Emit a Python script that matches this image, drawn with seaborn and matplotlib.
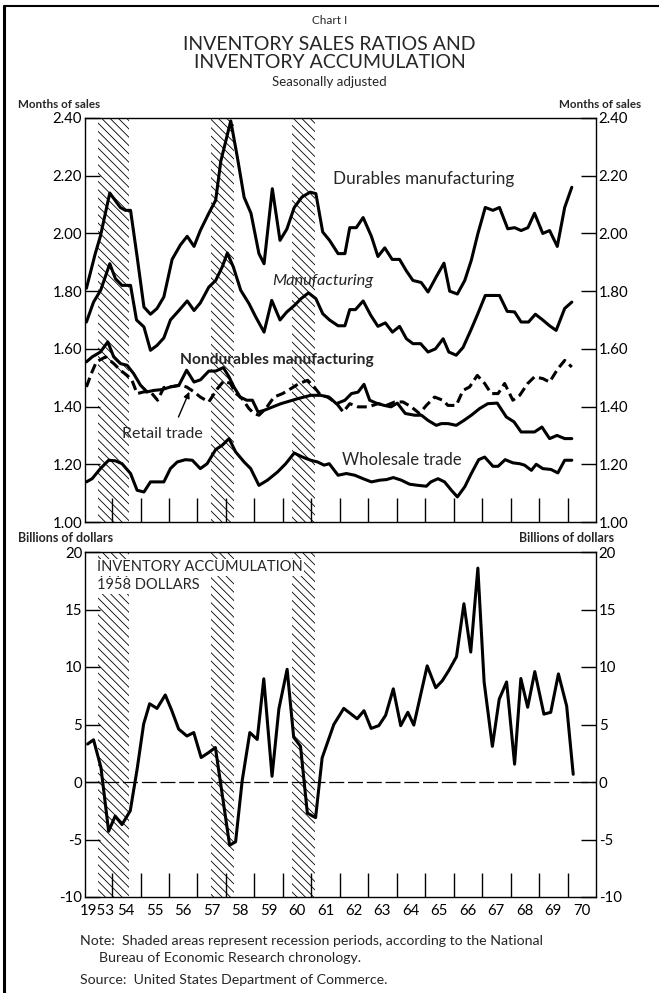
import numpy as np
import pandas as pd
import matplotlib
matplotlib.use("Agg")
import matplotlib.pyplot as plt
import seaborn as sns

# ---------------- data ----------------
durables_t = [1953.10, 1953.41, 1953.59, 1953.92, 1954.29, 1954.47, 1954.65, 1954.88, 1955.12, 1955.35,
              1955.58, 1955.82, 1956.11, 1956.40, 1956.64, 1956.88, 1957.10, 1957.40, 1957.64, 1957.82,
              1958.17, 1958.40, 1958.64, 1958.88, 1959.16, 1959.34, 1959.63, 1959.90, 1960.14, 1960.40,
              1960.67, 1960.96, 1961.16, 1961.40, 1961.64, 1961.94, 1962.18, 1962.35, 1962.58, 1962.82,
              1963.11, 1963.34, 1963.58, 1963.84, 1964.10, 1964.34, 1964.57, 1964.86, 1965.10, 1965.39,
              1965.66, 1965.86, 1966.13, 1966.39, 1966.62, 1966.85, 1967.11, 1967.38, 1967.61, 1967.90,
              1968.14, 1968.37, 1968.61, 1968.84, 1969.13, 1969.37, 1969.64, 1969.90, 1970.15]
durables_v = [1.81, 1.93, 1.99, 2.14, 2.09, 2.08, 2.08, 1.92, 1.745, 1.72,
              1.74, 1.78, 1.91, 1.96, 1.99, 1.955, 2.01, 2.07, 2.115, 2.25,
              2.39, 2.265, 2.125, 2.07, 1.93, 1.895, 2.155, 1.976, 2.015, 2.09,
              2.126, 2.143, 2.138, 2.005, 1.976, 1.93, 1.93, 2.02, 2.02, 2.055,
              1.99, 1.92, 1.95, 1.91, 1.91, 1.87, 1.837, 1.83, 1.797, 1.85,
              1.897, 1.80, 1.79, 1.837, 1.907, 1.999, 2.09, 2.08, 2.09, 2.016,
              2.02, 2.01, 2.02, 2.07, 2.00, 2.01, 1.955, 2.09, 2.16]

manuf_t = [1953.10, 1953.35, 1953.60, 1953.92, 1954.12, 1954.35, 1954.65, 1954.86, 1955.12, 1955.35,
           1955.58, 1955.82, 1956.05, 1956.35, 1956.64, 1956.88, 1957.10, 1957.40, 1957.64, 1957.87,
           1958.05, 1958.26, 1958.52, 1958.81, 1959.05, 1959.34, 1959.61, 1959.90, 1960.14, 1960.40,
           1960.64, 1960.90, 1961.16, 1961.40, 1961.64, 1961.94, 1962.18, 1962.35, 1962.55, 1962.82,
           1963.09, 1963.34, 1963.60, 1963.85, 1964.10, 1964.34, 1964.57, 1964.84, 1965.10, 1965.36,
           1965.63, 1965.83, 1966.09, 1966.33, 1966.60, 1966.85, 1967.11, 1967.38, 1967.61, 1967.88,
           1968.14, 1968.37, 1968.63, 1968.87, 1969.13, 1969.37, 1969.60, 1969.90, 1970.15]
manuf_v = [1.693, 1.762, 1.803, 1.895, 1.843, 1.82, 1.82, 1.70, 1.676, 1.595,
           1.612, 1.638, 1.70, 1.733, 1.766, 1.733, 1.759, 1.814, 1.837, 1.884,
           1.932, 1.884, 1.803, 1.757, 1.71, 1.658, 1.768, 1.70, 1.728, 1.75,
           1.774, 1.794, 1.774, 1.722, 1.70, 1.68, 1.68, 1.736, 1.736, 1.766,
           1.716, 1.678, 1.69, 1.658, 1.678, 1.635, 1.618, 1.618, 1.589, 1.60,
           1.635, 1.589, 1.578, 1.605, 1.664, 1.722, 1.785, 1.785, 1.785, 1.73,
           1.728, 1.693, 1.693, 1.72, 1.70, 1.68, 1.664, 1.74, 1.762]

nondur_t = [1953.10, 1953.30, 1953.59, 1953.85, 1954.06, 1954.29, 1954.53, 1954.76, 1955.00, 1955.23,
            1955.47, 1955.76, 1956.05, 1956.35, 1956.62, 1956.88, 1957.11, 1957.40, 1957.64, 1957.91,
            1958.11, 1958.28, 1958.50, 1958.73, 1958.93, 1959.13, 1959.34, 1959.93, 1960.51, 1960.98,
            1961.33, 1961.62, 1961.88, 1962.18, 1962.41, 1962.64, 1962.85, 1963.05, 1963.28, 1963.56,
            1963.80, 1964.02, 1964.30, 1964.63, 1964.87, 1965.10, 1965.39, 1965.57, 1965.80, 1966.09,
            1966.36, 1966.62, 1966.91, 1967.20, 1967.53, 1967.85, 1968.12, 1968.37, 1968.61, 1968.84,
            1969.10, 1969.37, 1969.63, 1969.90, 1970.15]
nondur_v = [1.555, 1.572, 1.589, 1.624, 1.572, 1.549, 1.543, 1.514, 1.474, 1.451,
            1.456, 1.459, 1.468, 1.474, 1.526, 1.485, 1.493, 1.523, 1.523, 1.535,
            1.503, 1.468, 1.433, 1.422, 1.422, 1.381, 1.387, 1.41, 1.427, 1.439,
            1.439, 1.433, 1.41, 1.422, 1.445, 1.45, 1.477, 1.422, 1.412, 1.404,
            1.399, 1.412, 1.376, 1.37, 1.37, 1.352, 1.335, 1.341, 1.341, 1.335,
            1.352, 1.37, 1.393, 1.41, 1.412, 1.364, 1.347, 1.312, 1.312, 1.312,
            1.329, 1.289, 1.30, 1.289, 1.289]

retail_t = [1953.10, 1953.27, 1953.45, 1953.77, 1954.06, 1954.29, 1954.53, 1954.70, 1954.88, 1955.12,
            1955.35, 1955.60, 1955.82, 1956.17, 1956.40, 1956.62, 1956.88, 1957.10, 1957.40, 1957.70,
            1957.93, 1958.16, 1958.34, 1958.57, 1958.81, 1958.99, 1959.16, 1959.40, 1959.69, 1959.99,
            1960.28, 1960.57, 1960.87, 1961.10, 1961.33, 1961.57, 1961.88, 1962.12, 1962.35, 1962.64,
            1963.00, 1963.34, 1963.64, 1963.93, 1964.22, 1964.51, 1964.80, 1965.04, 1965.33, 1965.62,
            1965.80, 1966.09, 1966.33, 1966.56, 1966.83, 1967.09, 1967.32, 1967.56, 1967.79, 1968.08,
            1968.32, 1968.60, 1968.84, 1969.13, 1969.37, 1969.66, 1969.90, 1970.15]
retail_v = [1.468, 1.514, 1.555, 1.572, 1.549, 1.526, 1.508, 1.491, 1.445, 1.451,
            1.451, 1.422, 1.466, 1.47, 1.474, 1.468, 1.451, 1.433, 1.416, 1.462,
            1.489, 1.48, 1.447, 1.427, 1.393, 1.376, 1.37, 1.393, 1.433, 1.445,
            1.462, 1.48, 1.491, 1.468, 1.439, 1.433, 1.412, 1.381, 1.41, 1.399,
            1.399, 1.41, 1.404, 1.416, 1.416, 1.399, 1.376, 1.404, 1.433, 1.422,
            1.404, 1.404, 1.456, 1.468, 1.508, 1.48, 1.445, 1.445, 1.48, 1.422,
            1.439, 1.48, 1.503, 1.497, 1.485, 1.531, 1.56, 1.537]

whole_t = [1953.10, 1953.30, 1953.59, 1953.88, 1954.12, 1954.35, 1954.65, 1954.88, 1955.12, 1955.35,
           1955.58, 1955.82, 1956.05, 1956.29, 1956.58, 1956.82, 1957.10, 1957.34, 1957.64, 1957.87,
           1958.11, 1958.34, 1958.64, 1958.87, 1959.16, 1959.46, 1959.81, 1960.10, 1960.40, 1960.69,
           1960.98, 1961.22, 1961.45, 1961.63, 1961.94, 1962.23, 1962.53, 1962.82, 1963.11, 1963.41,
           1963.64, 1963.88, 1964.16, 1964.45, 1964.75, 1965.04, 1965.20, 1965.45, 1965.68, 1965.92,
           1966.13, 1966.39, 1966.62, 1966.88, 1967.09, 1967.38, 1967.56, 1967.81, 1968.08, 1968.32,
           1968.49, 1968.73, 1968.90, 1969.13, 1969.42, 1969.66, 1969.90, 1970.15]
whole_v = [1.139, 1.15, 1.185, 1.214, 1.212, 1.202, 1.168, 1.11, 1.104, 1.139,
           1.139, 1.139, 1.185, 1.208, 1.216, 1.214, 1.185, 1.202, 1.251, 1.266,
           1.289, 1.243, 1.208, 1.185, 1.127, 1.145, 1.173, 1.202, 1.239, 1.225,
           1.214, 1.208, 1.197, 1.202, 1.162, 1.168, 1.162, 1.15, 1.139, 1.145,
           1.147, 1.154, 1.145, 1.131, 1.127, 1.124, 1.139, 1.15, 1.139, 1.11,
           1.087, 1.122, 1.168, 1.216, 1.225, 1.193, 1.193, 1.216, 1.205, 1.202,
           1.197, 1.179, 1.20, 1.185, 1.182, 1.17, 1.214, 1.214]

accum_t = [1953.14, 1953.35, 1953.61, 1953.88, 1954.11, 1954.35, 1954.64, 1954.88, 1955.11, 1955.32,
           1955.58, 1955.87, 1956.10, 1956.34, 1956.63, 1956.87, 1957.13, 1957.40, 1957.63, 1958.13,
           1958.34, 1958.57, 1958.84, 1959.10, 1959.33, 1959.62, 1959.86, 1960.15, 1960.38, 1960.62,
           1960.86, 1961.15, 1961.38, 1961.79, 1962.14, 1962.61, 1962.85, 1963.10, 1963.37, 1963.61,
           1963.88, 1964.14, 1964.39, 1964.60, 1965.07, 1965.37, 1965.60, 1965.83, 1966.10, 1966.36,
           1966.60, 1966.85, 1967.07, 1967.36, 1967.60, 1967.86, 1968.14, 1968.36, 1968.60, 1968.85,
           1969.17, 1969.41, 1969.68, 1969.97, 1970.20]
accum_v = [3.3, 3.67, 1.26, -4.28, -2.97, -3.7, -2.5, 1.1, 5.04, 6.8,
           6.4, 7.57, 6.2, 4.6, 4.0, 4.3, 2.13, 2.57, 3.0, -5.5,
           -5.2, 0.09, 4.3, 3.7, 8.97, 0.5, 6.35, 9.8, 3.9, 3.1,
           -2.7, -3.1, 2.1, 5.0, 6.4, 5.5, 6.2, 4.66, 4.9, 5.8,
           8.1, 4.9, 6.06, 4.95, 10.1, 8.2, 8.8, 9.7, 10.9, 15.5,
           11.3, 18.6, 8.7, 3.1, 7.2, 8.7, 1.55, 9.0, 6.5, 9.6,
           5.9, 6.06, 9.4, 6.6, 0.67]

recessions = [(1953.50, 1954.58), (1957.48, 1958.30), (1960.33, 1961.13)]
year_ticks = list(range(1954, 1971))
year_labels = ["1953"] + [f"{y % 100:02d}" for y in range(1954, 1971)]
ratio_ticks = [1.00, 1.20, 1.40, 1.60, 1.80, 2.00, 2.20, 2.40]
accum_ticks = [-10, -5, 0, 5, 10, 15, 20]

# ---------------- style ----------------
sns.set_style("white")
plt.rcParams['font.family'] = ['Lato', 'DejaVu Sans']
plt.rcParams['hatch.linewidth'] = 0.6
plt.rcParams['hatch.color'] = 'black'

W, H = 659, 993
fig = plt.figure(figsize=(W / 100, H / 100), dpi=100)


def fx(x):
    return x / W


def fy(y):
    return 1 - y / H


L, R = 85, 596
ax1 = fig.add_axes([fx(L), fy(522), (R - L) / W, (522 - 118) / H])
ax2 = fig.add_axes([fx(L), fy(897), (R - L) / W, (897 - 552) / H])

LW = 2.2
XL = (1953.05, 1971.0)
TICKFS = 10.8


def style_axis(ax, yticks, ylabels, ylim):
    ax.set_xlim(*XL)
    ax.set_ylim(*ylim)
    for s in ax.spines.values():
        s.set_visible(True)
        s.set_color('black')
        s.set_linewidth(1.0)
    ax.set_yticks(yticks)
    ax.set_yticklabels(ylabels)
    ax.tick_params(axis='y', which='major', direction='in', length=11, width=1.0,
                   left=True, right=True, labelleft=True, labelright=True,
                   labelsize=TICKFS, pad=2, colors='black')
    ax.set_xticks(year_ticks)
    ax.set_xticklabels([])
    ax.tick_params(axis='x', which='major', direction='in', length=17, width=1.0,
                   bottom=True, top=False, colors='black')
    ax.set_xlabel('')
    ax.set_ylabel('')
    for s, e in recessions:
        ax.axvspan(s, e, facecolor='none', edgecolor='black', hatch='\\\\\\\\',
                   linewidth=0, zorder=0)


# ---------------- top panel ----------------
style_axis(ax1, ratio_ticks, [f"{v:.2f}" for v in ratio_ticks], (1.0, 2.4))

series = [(durables_t, durables_v), (manuf_t, manuf_v), (nondur_t, nondur_v), (whole_t, whole_v)]
for t, v in series:
    sns.lineplot(x=t, y=v, ax=ax1, color='black', linewidth=LW, estimator=None, sort=False)
sns.lineplot(x=retail_t, y=retail_v, ax=ax1, color='black', linewidth=LW, estimator=None, sort=False)
ax1.lines[-1].set_linestyle((0, (3.2, 1.6)))
ax1.set_xlim(*XL)
ax1.set_ylim(1.0, 2.4)


def t_of(x):
    return 1953 + (x - 83.3) / 28.44


ax1.text(t_of(332), 2.19, "Durables manufacturing", fontsize=12.3, va='center', ha='left')
ax1.text(t_of(272), 1.836, "Manufacturing", fontsize=11.8, va='center', ha='left', style='italic')
ax1.text(t_of(180), 1.56, "Nondurables manufacturing", fontsize=11.2, va='center', ha='left',
         fontweight='bold')
ax1.text(t_of(122), 1.306, "Retail trade", fontsize=11.5, va='center', ha='left')
ax1.annotate("", xy=(t_of(190), 1.46), xytext=(t_of(177), 1.355),
             arrowprops=dict(arrowstyle='-|>', color='black', lw=1.0, mutation_scale=9))
ax1.text(t_of(341), 1.215, "Wholesale trade", fontsize=12, va='center', ha='left')

# ---------------- bottom panel ----------------
style_axis(ax2, accum_ticks, [str(v) for v in accum_ticks], (-10, 20))
ax2.axhline(0, color='black', lw=0.9, ls=(0, (12, 3)), zorder=1)
sns.lineplot(x=accum_t, y=accum_v, ax=ax2, color='black', linewidth=LW, estimator=None, sort=False)
ax2.set_xlim(*XL)
ax2.set_ylim(-10, 20)
ax2.set_xticks([y + 0.5 for y in range(1953, 1971)], minor=True)
ax2.set_xticklabels(year_labels, minor=True)
ax2.tick_params(axis='x', which='minor', length=0, labelsize=TICKFS, pad=5, colors='black')
for txt, yv in [("INVENTORY ACCUMULATION", 18.66), ("1958 DOLLARS", 17.09)]:
    ax2.text(t_of(97), yv, txt, fontsize=10.5, va='center', ha='left',
             bbox=dict(facecolor='white', edgecolor='none', pad=0.8), zorder=5)

# ---------------- header & notes ----------------
fig.text(0.5, fy(20), "Chart I", ha='center', va='center', fontsize=8.5)
fig.text(0.5, fy(44), "INVENTORY SALES RATIOS AND", ha='center', va='center', fontsize=14)
fig.text(0.5, fy(62), "INVENTORY ACCUMULATION", ha='center', va='center', fontsize=14)
fig.text(0.5, fy(82), "Seasonally adjusted", ha='center', va='center', fontsize=9.5)
fig.text(fx(18), fy(104), "Months of sales", ha='left', va='center', fontsize=8.4, fontweight='bold')
fig.text(fx(641), fy(104), "Months of sales", ha='right', va='center', fontsize=8.4, fontweight='bold')
fig.text(fx(18), fy(538), "Billions of dollars", ha='left', va='center', fontsize=9, fontweight='bold')
fig.text(fx(614), fy(538), "Billions of dollars", ha='right', va='center', fontsize=9, fontweight='bold')
NFS = 10.2
fig.text(fx(80), fy(941), "Note:  Shaded areas represent recession periods, according to the National",
         ha='left', va='center', fontsize=NFS)
fig.text(fx(99), fy(958), "Bureau of Economic Research chronology.", ha='left', va='center', fontsize=NFS)
fig.text(fx(80), fy(980), "Source:  United States Department of Commerce.", ha='left', va='center',
         fontsize=NFS)

# frame lines
fig.add_artist(plt.Line2D([fx(4), fx(4)], [0, fy(6)], color='black', lw=2.2))
fig.add_artist(plt.Line2D([fx(4), 1], [fy(6), fy(6)], color='black', lw=1.5))

fig.savefig("out.png", dpi=100, facecolor='white')
